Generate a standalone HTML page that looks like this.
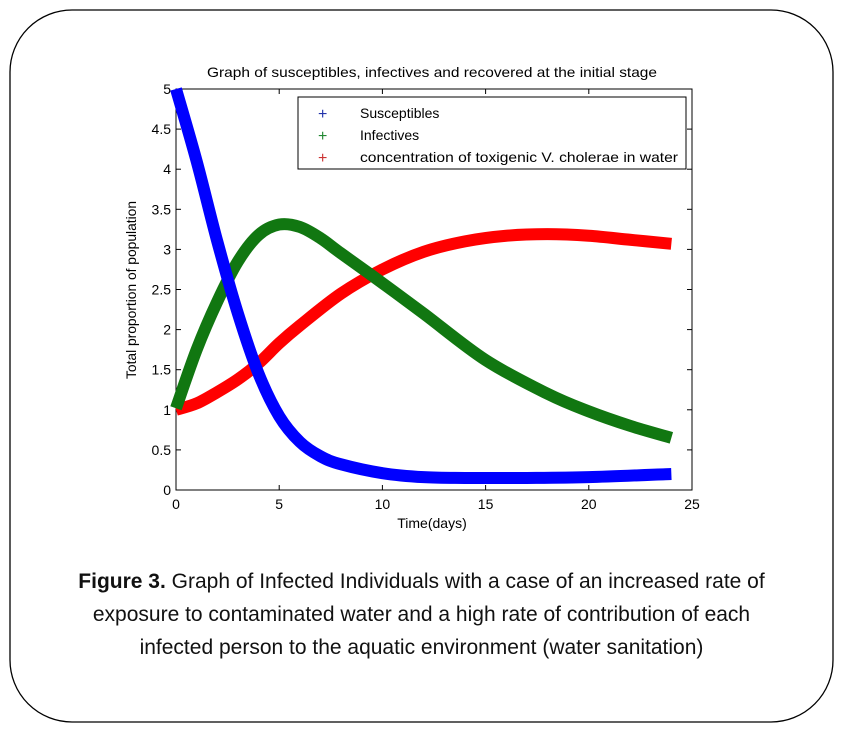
<!DOCTYPE html>
<html><head><meta charset="utf-8"><style>
html,body{margin:0;padding:0;background:#fff;}
body{width:843px;height:731px;position:relative;overflow:hidden;font-family:"Liberation Sans",sans-serif;}
.cap{position:absolute;left:0;width:843px;text-align:center;font-size:21px;color:#111;}
</style></head><body>
<svg id="s" width="843" height="731" style="position:absolute;left:0;top:0" font-family="Liberation Sans, sans-serif">
<rect x="10" y="10" width="823" height="712" rx="62" ry="62" fill="none" stroke="#000" stroke-width="1.3"/>
<text x="207" y="77" font-size="14" textLength="450" lengthAdjust="spacingAndGlyphs">Graph of susceptibles, infectives and recovered at the initial stage</text>
<rect x="176" y="89" width="516" height="401" fill="#fff" stroke="#000" stroke-width="1"/>
<g id="ticks" font-size="14" fill="#000"></g>
<g id="curves" fill="none" stroke-linecap="butt" stroke-linejoin="round" stroke-width="12"></g>
<rect x="298" y="97" width="388" height="72" fill="#fff" stroke="#000" stroke-width="1"/>
<g font-size="14">
<text x="318" y="119" fill="#2233aa" font-size="16">+</text><text x="360" y="118">Susceptibles</text>
<text x="318" y="141" fill="#228833" font-size="16">+</text><text x="360" y="140">Infectives</text>
<text x="318" y="163" fill="#cc3333" font-size="16">+</text><text x="360" y="162" textLength="318" lengthAdjust="spacingAndGlyphs">concentration of toxigenic V. cholerae in water</text>
</g>
<text x="432" y="528" font-size="14" text-anchor="middle">Time(days)</text>
<text transform="translate(136,290) rotate(-90)" font-size="14" text-anchor="middle" textLength="178" lengthAdjust="spacingAndGlyphs">Total proportion of population</text>
</svg>
<div class="cap" style="top:570px"><b>Figure 3.</b> Graph of Infected Individuals with a case of an increased rate of</div>
<div class="cap" style="top:603px">exposure to contaminated water and a high rate of contribution of each</div>
<div class="cap" style="top:636px">infected person to the aquatic environment (water sanitation)</div>
<script>
var X=function(t){return 176+t*20.64},Y=function(v){return 490-v*80.2};
var tk=document.getElementById('ticks'),h='';
for(var i=0;i<=5;i++){var x=X(i*5);h+='<text x="'+x+'" y="509" text-anchor="middle">'+(i*5)+'</text>';
if(i>0&&i<5){h+='<line x1="'+x+'" y1="490" x2="'+x+'" y2="485" stroke="#000"/><line x1="'+x+'" y1="89" x2="'+x+'" y2="94" stroke="#000"/>';}}
for(var j=0;j<=10;j++){var v=j*0.5,y=Y(v);h+='<text x="171" y="'+(y+5)+'" text-anchor="end">'+v+'</text>';
if(j>0&&j<10){h+='<line x1="176" y1="'+y+'" x2="181" y2="'+y+'" stroke="#000"/><line x1="692" y1="'+y+'" x2="687" y2="'+y+'" stroke="#000"/>';}}
tk.innerHTML=h;
function path(p){var pts=p.map(function(a){return [X(a[0]),Y(a[1])]});var d='M'+pts[0][0]+','+pts[0][1];
for(var i=0;i<pts.length-1;i++){var p0=pts[i-1]||pts[i],p1=pts[i],p2=pts[i+1],p3=pts[i+2]||p2;
d+=' C'+(p1[0]+(p2[0]-p0[0])/6)+','+(p1[1]+(p2[1]-p0[1])/6)+' '+(p2[0]-(p3[0]-p1[0])/6)+','+(p2[1]-(p3[1]-p1[1])/6)+' '+p2[0]+','+p2[1];}return d;}
var S=[[0,5],[1,4.1],[2,3.1],[3,2.2],[4,1.45],[5,0.92],[6,0.6],[7,0.42],[8,0.32],[10,0.21],[12,0.16],[14,0.15],[17,0.15],[20,0.16],[24,0.2]];
var I=[[0,1.02],[1,1.75],[2,2.35],[3,2.85],[4,3.18],[5,3.31],[6,3.28],[7,3.14],[8,2.95],[10,2.58],[12,2.2],[15,1.62],[18,1.2],[20,0.98],[22,0.8],[24,0.65]];
var R=[[0,1],[1,1.08],[2,1.22],[3,1.38],[4,1.58],[5,1.83],[6,2.05],[8,2.45],[10,2.75],[12,2.97],[14,3.1],[16,3.17],[18,3.19],[20,3.17],[22,3.12],[24,3.07]];
document.getElementById('curves').innerHTML='<path d="'+path(R)+'" stroke="#ff0000"/><path d="'+path(I)+'" stroke="#117711"/><path d="'+path(S)+'" stroke="#0000ff"/>';
</script>
</body></html>
